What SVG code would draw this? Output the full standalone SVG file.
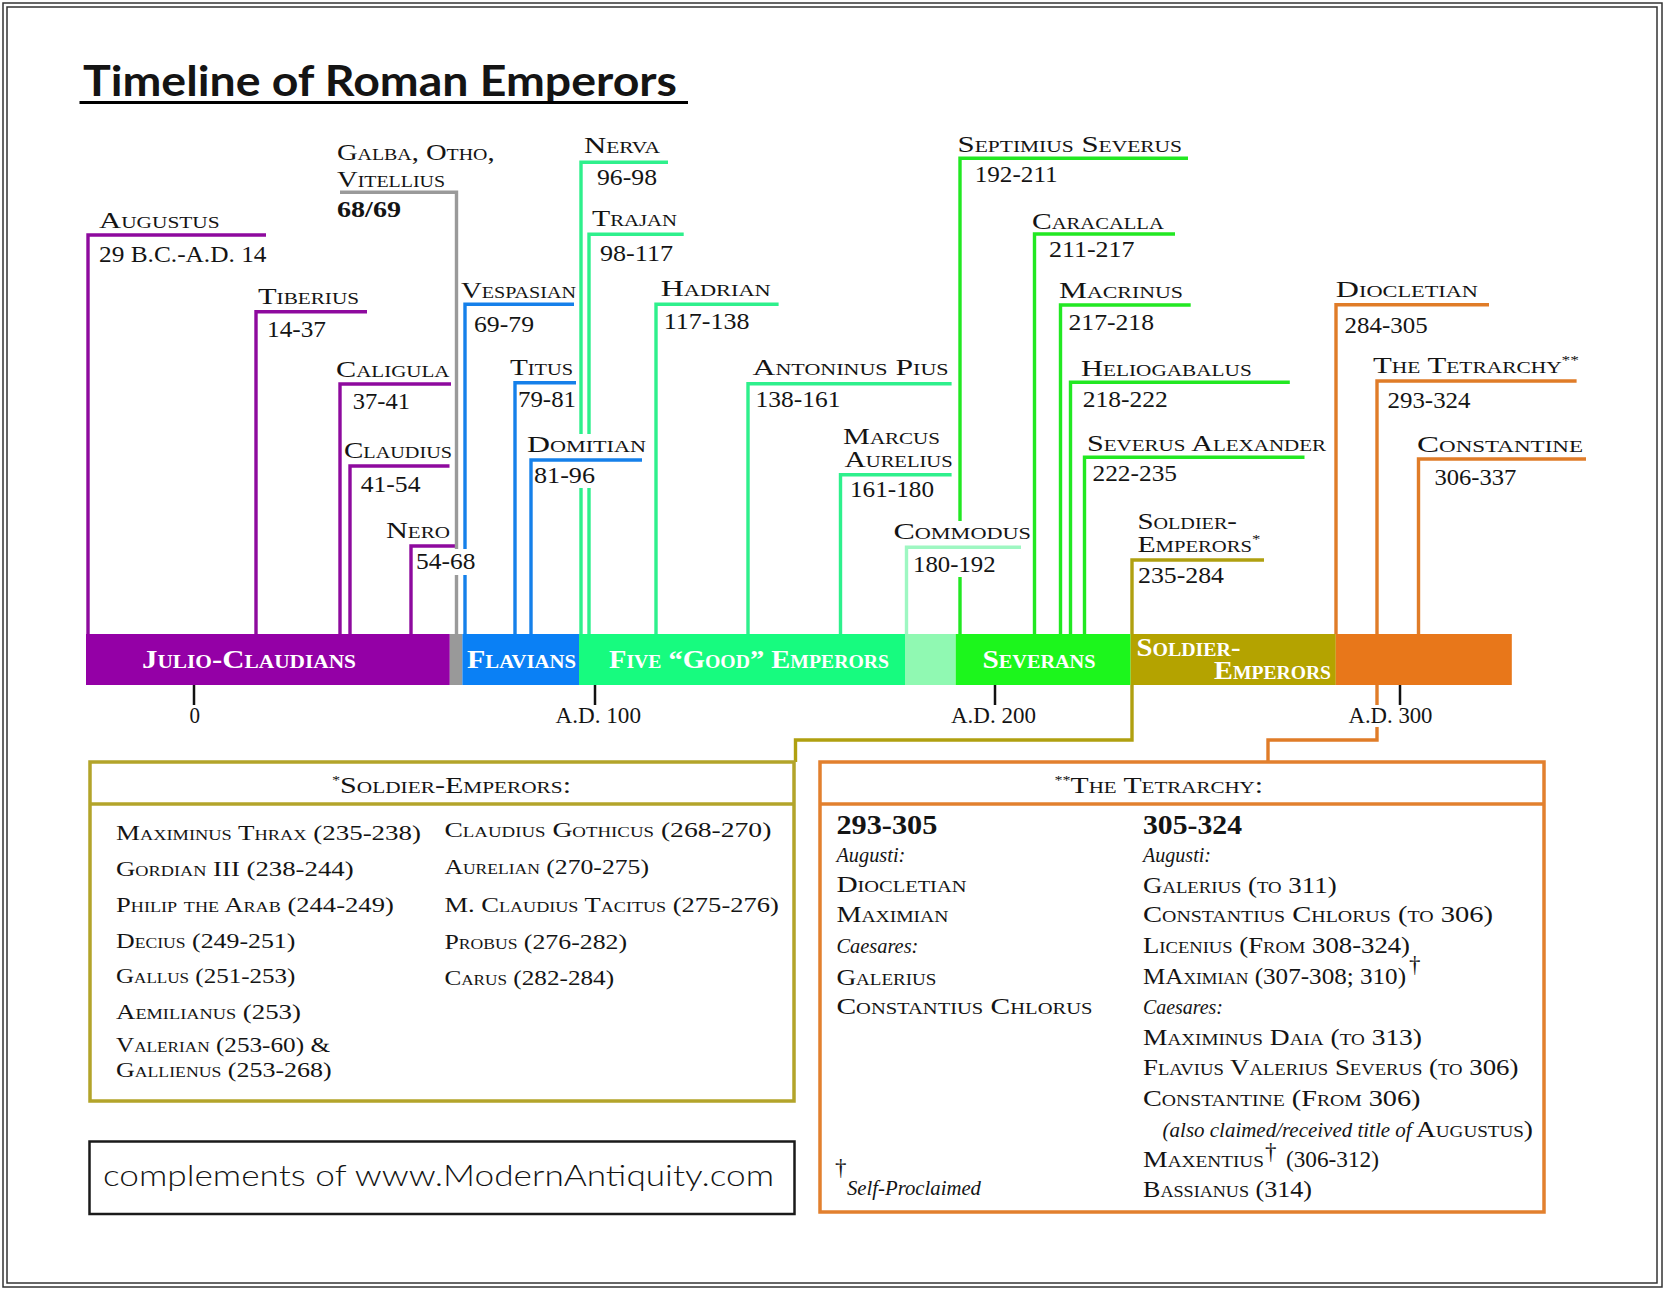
<svg xmlns="http://www.w3.org/2000/svg" width="1666" height="1291" viewBox="0 0 1666 1291">
<defs>
<style>
text{font-family:"Liberation Serif","DejaVu Serif",serif;fill:#141414}
.n{font-size:23px;font-variant:small-caps}
.d{font-size:23px}
.b{font-size:26px;font-weight:bold;font-variant:small-caps;fill:#fff}
.s{font-size:22px;font-variant:small-caps}
.h{font-size:24px;font-variant:small-caps}
.i{font-style:italic;font-size:21px}
.yr{font-size:27px;font-weight:bold}
.sup{font-size:13px}
.ln{fill:none;stroke-width:3.4;stroke-linejoin:miter;stroke-linecap:butt}
.pu{stroke:#8e0a9e}
.gy{stroke:#9a9a9a}
.bl{stroke:#1580ea}
.gn{stroke:#2ef08c}
.pg{stroke:#9ef7c2}
.sv{stroke:#22e822}
.ol{stroke:#b0a010}
.or{stroke:#e07c28}
.tick{stroke:#111;stroke-width:2.5}
.box{fill:none;stroke-width:3.5}
.mask{fill:#fff}
</style>
</defs>
<rect width="1666" height="1291" fill="#fff"/>
<rect x="3" y="3" width="1659" height="1284" fill="none" stroke="#333" stroke-width="1.5"/>
<rect x="7" y="7" width="1650" height="1276" fill="none" stroke="#333" stroke-width="1.5"/>

<g id="title">
<text x="83" y="96" style="font-family:Lato,'DejaVu Sans',sans-serif" font-weight="700" font-size="42" textLength="594" lengthAdjust="spacingAndGlyphs">Timeline of Roman Emperors</text>
<line x1="79.5" y1="102.5" x2="688" y2="102.5" stroke="#000" stroke-width="3"/>
</g>

<g id="connectors">
<path class="ln pu" d="M266,235 H88 V634"/>
<path class="ln pu" d="M367,311.7 H256 V634"/>
<path class="ln pu" d="M451,384 H340 V634"/>
<path class="ln pu" d="M449.5,466 H350 V634"/>
<path class="ln pu" d="M455,546 H411 V634"/>
<path class="ln gy" d="M340,192.3 H456.5 V634"/>
<path class="ln bl" d="M574,304.3 H465 V634"/>
<path class="ln bl" d="M576,382.7 H515 V634"/>
<path class="ln gn" d="M668,162.3 H581 V634"/>
<path class="ln gn" d="M683.7,234.3 H589 V634"/>
<path class="ln gn" d="M778.6,304.3 H656 V634"/>
<path class="ln gn" d="M951.6,383.7 H748 V634"/>
<path class="ln gn" d="M951.6,474.7 H840.5 V634"/>
<path class="ln sv" d="M1188,158.3 H960 V634"/>
<path class="ln sv" d="M1175,234 H1034.5 V634"/>
<path class="ln sv" d="M1190.7,305 H1060.5 V634"/>
<path class="ln sv" d="M1289.8,382.3 H1070.5 V634"/>
<path class="ln sv" d="M1304.5,457.3 H1084.5 V634"/>
<path class="ln ol" d="M1264,560 H1132 V634"/>
<path class="ln ol" d="M1132,685 V740 H795.5 V762"/>
<path class="ln or" d="M1489,304.7 H1336 V634"/>
<path class="ln or" d="M1576.6,381 H1377 V634"/>
<path class="ln or" d="M1586,459 H1418.5 V634"/>
<path class="ln or" d="M1377,685 V740 H1268 V762"/>
<rect class="mask" x="575" y="434" width="19" height="54"/>
<rect class="mask" x="952" y="521" width="16" height="56"/>
<rect class="mask" x="452" y="549" width="18" height="26"/>
<rect class="mask" x="1372" y="705" width="10" height="22"/>
<path class="ln bl" d="M642,460 H531 V634"/>
<path class="ln pg" d="M1021,547.3 H906.5 V634"/>
<path class="tick" d="M194,685V705 M595,685V705 M995,685V705 M1400,685V705"/>
</g>

<g id="timeline-bar">
<g id="bar-julio-claudians"><rect x="86" y="634" width="363.8" height="51" fill="#9400a6"/>
<text class="b" x="142" y="668" textLength="214" lengthAdjust="spacingAndGlyphs">Julio-Claudians</text></g>
<g id="bar-year-of-four"><rect x="449.8" y="634" width="12.6" height="51" fill="#999999"/></g>
<g id="bar-flavians"><rect x="462.4" y="634" width="116.6" height="51" fill="#0a80f5"/>
<text class="b" x="467" y="668" textLength="109" lengthAdjust="spacingAndGlyphs">Flavians</text></g>
<g id="bar-five-good"><rect x="579" y="634" width="326" height="51" fill="#17fb7f"/>
<text class="b" x="609" y="668" textLength="280" lengthAdjust="spacingAndGlyphs">Five “Good” Emperors</text></g>
<g id="bar-commodus"><rect x="905" y="634" width="50.7" height="51" fill="#90f9b2"/></g>
<g id="bar-severans"><rect x="955.7" y="634" width="174.9" height="51" fill="#1cf61c"/>
<text class="b" x="982.5" y="668" textLength="113" lengthAdjust="spacingAndGlyphs">Severans</text></g>
<g id="bar-soldier-emperors"><rect x="1130.6" y="634" width="205.2" height="51" fill="#b4a300"/>
<text class="b" x="1136.5" y="656" textLength="104" lengthAdjust="spacingAndGlyphs">Soldier-</text>
<text class="b" x="1214" y="679" textLength="117" lengthAdjust="spacingAndGlyphs">Emperors</text></g>
<g id="bar-tetrarchy"><rect x="1335.8" y="634" width="176" height="51" fill="#e8771a"/></g>
</g>

<g id="axis-labels">
<text class="d" x="189.5" y="723" textLength="10.5" lengthAdjust="spacingAndGlyphs">0</text>
<text class="d" x="555.5" y="723" textLength="85.5" lengthAdjust="spacingAndGlyphs">A.D. 100</text>
<text class="d" x="951" y="723" textLength="85" lengthAdjust="spacingAndGlyphs">A.D. 200</text>
<text class="d" x="1348.5" y="723" textLength="84" lengthAdjust="spacingAndGlyphs">A.D. 300</text>
</g>

<g id="n-augustus"><text class="n" x="99" y="228" textLength="120.6" lengthAdjust="spacingAndGlyphs">Augustus</text><text class="d" x="99" y="262" textLength="167.5" lengthAdjust="spacingAndGlyphs">29 B.C.-A.D. 14</text></g>
<g id="n-tiberius"><text class="n" x="258" y="304" textLength="101" lengthAdjust="spacingAndGlyphs">Tiberius</text><text class="d" x="267" y="337" textLength="59" lengthAdjust="spacingAndGlyphs">14-37</text></g>
<g id="n-galba-otho-vitellius"><text class="n" x="337" y="160" textLength="157.6" lengthAdjust="spacingAndGlyphs">Galba, Otho,</text><text class="n" x="337" y="187" textLength="108" lengthAdjust="spacingAndGlyphs">Vitellius</text><text class="d" x="337" y="217" font-weight="bold" textLength="64" lengthAdjust="spacingAndGlyphs">68/69</text></g>
<g id="n-caligula"><text class="n" x="336" y="376.7" textLength="113.5" lengthAdjust="spacingAndGlyphs">Caligula</text><text class="d" x="352.7" y="409" textLength="57.3" lengthAdjust="spacingAndGlyphs">37-41</text></g>
<g id="n-claudius"><text class="n" x="344" y="457.7" textLength="108" lengthAdjust="spacingAndGlyphs">Claudius</text><text class="d" x="360.7" y="492" textLength="59.8" lengthAdjust="spacingAndGlyphs">41-54</text></g>
<g id="n-nero"><text class="n" x="386" y="538" textLength="64" lengthAdjust="spacingAndGlyphs">Nero</text><text class="d" x="416" y="569" textLength="59.4" lengthAdjust="spacingAndGlyphs">54-68</text></g>
<g id="n-vespasian"><text class="n" x="461" y="298" textLength="115" lengthAdjust="spacingAndGlyphs">Vespasian</text><text class="d" x="474" y="332" textLength="60" lengthAdjust="spacingAndGlyphs">69-79</text></g>
<g id="n-titus"><text class="n" x="510" y="375" textLength="63" lengthAdjust="spacingAndGlyphs">Titus</text><text class="d" x="518" y="407" textLength="58" lengthAdjust="spacingAndGlyphs">79-81</text></g>
<g id="n-domitian"><text class="n" x="527" y="451.7" textLength="119" lengthAdjust="spacingAndGlyphs">Domitian</text><text class="d" x="534" y="483" textLength="61" lengthAdjust="spacingAndGlyphs">81-96</text></g>
<g id="n-nerva"><text class="n" x="584" y="153" textLength="76" lengthAdjust="spacingAndGlyphs">Nerva</text><text class="d" x="597" y="185" textLength="60" lengthAdjust="spacingAndGlyphs">96-98</text></g>
<g id="n-trajan"><text class="n" x="592" y="226" textLength="85" lengthAdjust="spacingAndGlyphs">Trajan</text><text class="d" x="600" y="261" textLength="73" lengthAdjust="spacingAndGlyphs">98-117</text></g>
<g id="n-hadrian"><text class="n" x="660.7" y="296" textLength="110" lengthAdjust="spacingAndGlyphs">Hadrian</text><text class="d" x="663.8" y="329" textLength="85.7" lengthAdjust="spacingAndGlyphs">117-138</text></g>
<g id="n-antoninus-pius"><text class="n" x="752.6" y="375" textLength="196" lengthAdjust="spacingAndGlyphs">Antoninus Pius</text><text class="d" x="755.6" y="406.7" textLength="85" lengthAdjust="spacingAndGlyphs">138-161</text></g>
<g id="n-marcus-aurelius"><text class="n" x="843" y="444.3" textLength="97" lengthAdjust="spacingAndGlyphs">Marcus</text><text class="n" x="844.4" y="467.3" textLength="108.3" lengthAdjust="spacingAndGlyphs">Aurelius</text><text class="d" x="850" y="497.3" textLength="84" lengthAdjust="spacingAndGlyphs">161-180</text></g>
<g id="n-commodus"><text class="n" x="893.4" y="539.3" textLength="137.6" lengthAdjust="spacingAndGlyphs">Commodus</text><text class="d" x="913" y="572.3" textLength="82.6" lengthAdjust="spacingAndGlyphs">180-192</text></g>
<g id="n-septimius-severus"><text class="n" x="957.6" y="152.3" textLength="224.4" lengthAdjust="spacingAndGlyphs">Septimius Severus</text><text class="d" x="974.7" y="181.7" textLength="83" lengthAdjust="spacingAndGlyphs">192-211</text></g>
<g id="n-caracalla"><text class="n" x="1032" y="229" textLength="131.8" lengthAdjust="spacingAndGlyphs">Caracalla</text><text class="d" x="1049" y="256.7" textLength="85.5" lengthAdjust="spacingAndGlyphs">211-217</text></g>
<g id="n-macrinus"><text class="n" x="1059" y="297.7" textLength="124" lengthAdjust="spacingAndGlyphs">Macrinus</text><text class="d" x="1068.5" y="330" textLength="85.5" lengthAdjust="spacingAndGlyphs">217-218</text></g>
<g id="n-heliogabalus"><text class="n" x="1081" y="375.7" textLength="170.7" lengthAdjust="spacingAndGlyphs">Heliogabalus</text><text class="d" x="1082.7" y="407.3" textLength="85" lengthAdjust="spacingAndGlyphs">218-222</text></g>
<g id="n-severus-alexander"><text class="n" x="1087" y="450.7" textLength="239" lengthAdjust="spacingAndGlyphs">Severus Alexander</text><text class="d" x="1092.5" y="481" textLength="84.5" lengthAdjust="spacingAndGlyphs">222-235</text></g>
<g id="n-soldier-emperors"><text class="n" x="1137.4" y="529.3" textLength="99.6" lengthAdjust="spacingAndGlyphs">Soldier-</text><text class="n" x="1137.4" y="551.7" textLength="123" lengthAdjust="spacingAndGlyphs">Emperors<tspan class="sup" dy="-9">*</tspan></text><text class="d" x="1138" y="583.3" textLength="86" lengthAdjust="spacingAndGlyphs">235-284</text></g>
<g id="n-diocletian"><text class="n" x="1335.8" y="297.3" textLength="142.2" lengthAdjust="spacingAndGlyphs">Diocletian</text><text class="d" x="1344.6" y="333.3" textLength="83" lengthAdjust="spacingAndGlyphs">284-305</text></g>
<g id="n-tetrarchy"><text class="n" x="1373" y="373.3" textLength="206" lengthAdjust="spacingAndGlyphs">The Tetrarchy<tspan class="sup" dy="-9">**</tspan></text><text class="d" x="1387.5" y="408.3" textLength="83" lengthAdjust="spacingAndGlyphs">293-324</text></g>
<g id="n-constantine"><text class="n" x="1417" y="452.3" textLength="166" lengthAdjust="spacingAndGlyphs">Constantine</text><text class="d" x="1434.4" y="484.5" textLength="82" lengthAdjust="spacingAndGlyphs">306-337</text></g>

<g id="box-soldier-emperors">
<rect class="box" x="90" y="762" width="704" height="339" stroke="#b3a42a"/>
<line x1="90" y1="804" x2="794" y2="804" stroke="#b3a42a" stroke-width="3.5"/>
<text class="h" x="332" y="793" textLength="239" lengthAdjust="spacingAndGlyphs"><tspan class="sup" dy="-9">*</tspan><tspan dy="9">Soldier-Emperors:</tspan></text>
<text class="s" x="116" y="839.5" textLength="305" lengthAdjust="spacingAndGlyphs">Maximinus Thrax (235-238)</text>
<text class="s" x="116" y="876" textLength="237.6" lengthAdjust="spacingAndGlyphs">Gordian III (238-244)</text>
<text class="s" x="116" y="911.7" textLength="277.8" lengthAdjust="spacingAndGlyphs">Philip the Arab (244-249)</text>
<text class="s" x="116" y="947.5" textLength="179.4" lengthAdjust="spacingAndGlyphs">Decius (249-251)</text>
<text class="s" x="116" y="983.3" textLength="179.4" lengthAdjust="spacingAndGlyphs">Gallus (251-253)</text>
<text class="s" x="116" y="1019.3" textLength="185" lengthAdjust="spacingAndGlyphs">Aemilianus (253)</text>
<text class="s" x="116" y="1052" textLength="214" lengthAdjust="spacingAndGlyphs">Valerian (253-60) &amp;</text>
<text class="s" x="116" y="1077" textLength="215.7" lengthAdjust="spacingAndGlyphs">Gallienus (253-268)</text>
<text class="s" x="444.4" y="837" textLength="327" lengthAdjust="spacingAndGlyphs">Claudius Gothicus (268-270)</text>
<text class="s" x="444.4" y="874" textLength="204.6" lengthAdjust="spacingAndGlyphs">Aurelian (270-275)</text>
<text class="s" x="444.4" y="911.7" textLength="334.5" lengthAdjust="spacingAndGlyphs">M. Claudius Tacitus (275-276)</text>
<text class="s" x="444.4" y="948.5" textLength="182.7" lengthAdjust="spacingAndGlyphs">Probus (276-282)</text>
<text class="s" x="444.4" y="985" textLength="169.7" lengthAdjust="spacingAndGlyphs">Carus (282-284)</text>
</g>

<g id="box-tetrarchy">
<rect class="box" x="820" y="762" width="724" height="450" stroke="#e2802e"/>
<line x1="820" y1="804" x2="1544" y2="804" stroke="#e2802e" stroke-width="3.5"/>
<text class="h" x="1054.5" y="793" textLength="208.5" lengthAdjust="spacingAndGlyphs"><tspan class="sup" dy="-9">**</tspan><tspan dy="9">The Tetrarchy:</tspan></text>
<text class="yr" x="836.4" y="834.3" textLength="101" lengthAdjust="spacingAndGlyphs">293-305</text>
<text class="i" x="836.4" y="861.5" textLength="69" lengthAdjust="spacingAndGlyphs">Augusti:</text>
<text class="n" x="836.4" y="892.4" textLength="130" lengthAdjust="spacingAndGlyphs">Diocletian</text>
<text class="n" x="836.4" y="922.2" textLength="112" lengthAdjust="spacingAndGlyphs">Maximian</text>
<text class="i" x="836.4" y="952.8" textLength="82" lengthAdjust="spacingAndGlyphs">Caesares:</text>
<text class="n" x="836.4" y="984.5" textLength="100" lengthAdjust="spacingAndGlyphs">Galerius</text>
<text class="n" x="836.4" y="1014.4" textLength="256" lengthAdjust="spacingAndGlyphs">Constantius Chlorus</text>
<text class="d" x="835" y="1175" font-size="21">†</text>
<text class="i" x="847" y="1195" textLength="134" lengthAdjust="spacingAndGlyphs">Self-Proclaimed</text>
<text class="yr" x="1143" y="834.3" textLength="99" lengthAdjust="spacingAndGlyphs">305-324</text>
<text class="i" x="1143" y="861.5" textLength="68" lengthAdjust="spacingAndGlyphs">Augusti:</text>
<text class="n" x="1143" y="893" textLength="193.6" lengthAdjust="spacingAndGlyphs">Galerius (to 311)</text>
<text class="n" x="1143" y="922.4" textLength="350" lengthAdjust="spacingAndGlyphs">Constantius Chlorus (to 306)</text>
<text class="n" x="1143" y="953.2" textLength="267" lengthAdjust="spacingAndGlyphs">Licenius (From 308-324)</text>
<text class="n" x="1143" y="984.2" textLength="263" lengthAdjust="spacingAndGlyphs">MAximian (307-308; 310)</text>
<text class="d" x="1409" y="972" font-size="18">†</text>
<text class="i" x="1143" y="1014.4" textLength="80" lengthAdjust="spacingAndGlyphs">Caesares:</text>
<text class="n" x="1143" y="1045.2" textLength="279" lengthAdjust="spacingAndGlyphs">Maximinus Daia (to 313)</text>
<text class="n" x="1143" y="1075" textLength="375.4" lengthAdjust="spacingAndGlyphs">Flavius Valerius Severus (to 306)</text>
<text class="n" x="1143" y="1105.8" textLength="277.5" lengthAdjust="spacingAndGlyphs">Constantine (From 306)</text>
<text class="i" x="1162.6" y="1137.3" textLength="249" lengthAdjust="spacingAndGlyphs">(also claimed/received title of</text>
<text class="n" x="1416" y="1137.3" textLength="117" lengthAdjust="spacingAndGlyphs">Augustus)</text>
<text class="n" x="1143" y="1166.7" textLength="121" lengthAdjust="spacingAndGlyphs">Maxentius</text>
<text class="d" x="1265" y="1159" font-size="16">†</text>
<text class="d" x="1286" y="1166.7" textLength="93" lengthAdjust="spacingAndGlyphs">(306-312)</text>
<text class="n" x="1143" y="1197.3" textLength="169" lengthAdjust="spacingAndGlyphs">Bassianus (314)</text>
</g>

<g id="credit">
<rect x="89.5" y="1141.5" width="705" height="72.5" fill="none" stroke="#1a1a1a" stroke-width="2.5"/>
<text x="103" y="1186" style="font-family:Lato,'DejaVu Sans',sans-serif;font-size:29px;font-weight:300" textLength="671" lengthAdjust="spacingAndGlyphs">complements of www.ModernAntiquity.com</text>
</g>
</svg>
